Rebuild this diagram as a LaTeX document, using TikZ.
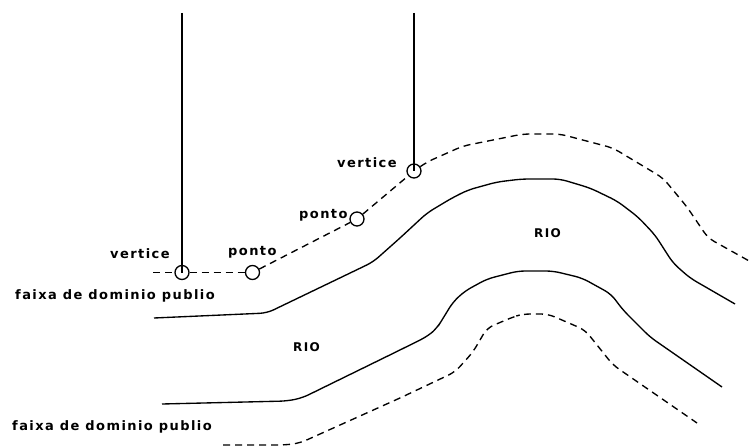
\documentclass[tikz,border=0pt]{standalone}
\usepackage{fontspec}
\setmainfont{DejaVu Sans}[LetterSpace=11]
\tikzset{
  x=1pt,y=-1pt,
  bank/.style={line width=1.35pt,line join=round,rounded corners=7pt},
  limit/.style={line width=1.35pt,dash pattern=on 7pt off 5pt,rounded corners=7pt},
  post/.style={line width=1.8pt},
  mark circle/.style={circle,draw,line width=1.3pt,minimum size=14pt,inner sep=0pt},
  lbl/.style={inner sep=0pt,font=\fontsize{13pt}{15pt}\selectfont\bfseries},
  riolbl/.style={inner sep=0pt,font=\fontsize{12pt}{14pt}\selectfont\bfseries}
}
\begin{document}
\begin{tikzpicture}
\useasboundingbox (0,0) rectangle (751,446);
% markers
\node[mark circle] (v1) at (182,272.5) {};
\node[mark circle] (p1) at (252.5,272.5) {};
\node[mark circle] (p2) at (357,219) {};
\node[mark circle] (v2) at (414,171) {};
\coordinate (t1) at (182,13);
\coordinate (t2) at (414,13);
\coordinate (ds) at (153,272.5);
% verticals
\draw[post] (t1) -- (v1.center);
\draw[post] (t2) -- (v2.center);
% upper limit
\draw[limit] (ds) -- (v1);
\draw[limit] (v1) -- (p1);
\draw[limit] (p1) -- (p2);
\draw[limit] (p2) -- (v2);
\draw[limit] (v2) -- (427,162) -- (463,146) -- (523,134) -- (560,134) -- (613,148) -- (663,178) -- (687,207) -- (708,238) -- (751,262);
% lower limit
\draw[limit] (223,445) -- (285,445) -- (300,443) -- (400,398) -- (455,372) -- (473,352) -- (487,328) -- (513,317) -- (523,314) -- (548,314) -- (585,330) -- (613,365) -- (697,423);
% river banks
\draw[bank] (154,318) -- (267,313) -- (373,262) -- (400,238) -- (427,213) -- (452,198) -- (468,190) -- (497,182) -- (522,179) -- (560,179) -- (590,188) -- (617,201) -- (638,217) -- (655,235) -- (673,263) -- (690,278) -- (735,304);
\draw[bank] (162,404) -- (287,401) -- (302,398) -- (400,350) -- (428,336) -- (437,328) -- (442,320) -- (453,302) -- (465,291) -- (487,279) -- (518,271) -- (553,271) -- (582,278) -- (611,294) -- (623,310) -- (650,337) -- (722,387);
% labels
\node[lbl,anchor=west] (a) at (110,254) {vertice};
\node[lbl,anchor=west] (b) at (228,252) {ponto};
\node[lbl,anchor=west] (c) at (299,215) {ponto};
\node[lbl,anchor=west] (d) at (337,163) {vertice};
\node[lbl,anchor=west] (e) at (15,296) {faixa de dominio publio};
\node[lbl,anchor=west] (f) at (12,427) {faixa de dominio publio};
\node[riolbl,anchor=west] (g) at (534,233) {RIO};
\node[riolbl,anchor=west] (h) at (293,347) {RIO};
\end{tikzpicture}
\end{document}
